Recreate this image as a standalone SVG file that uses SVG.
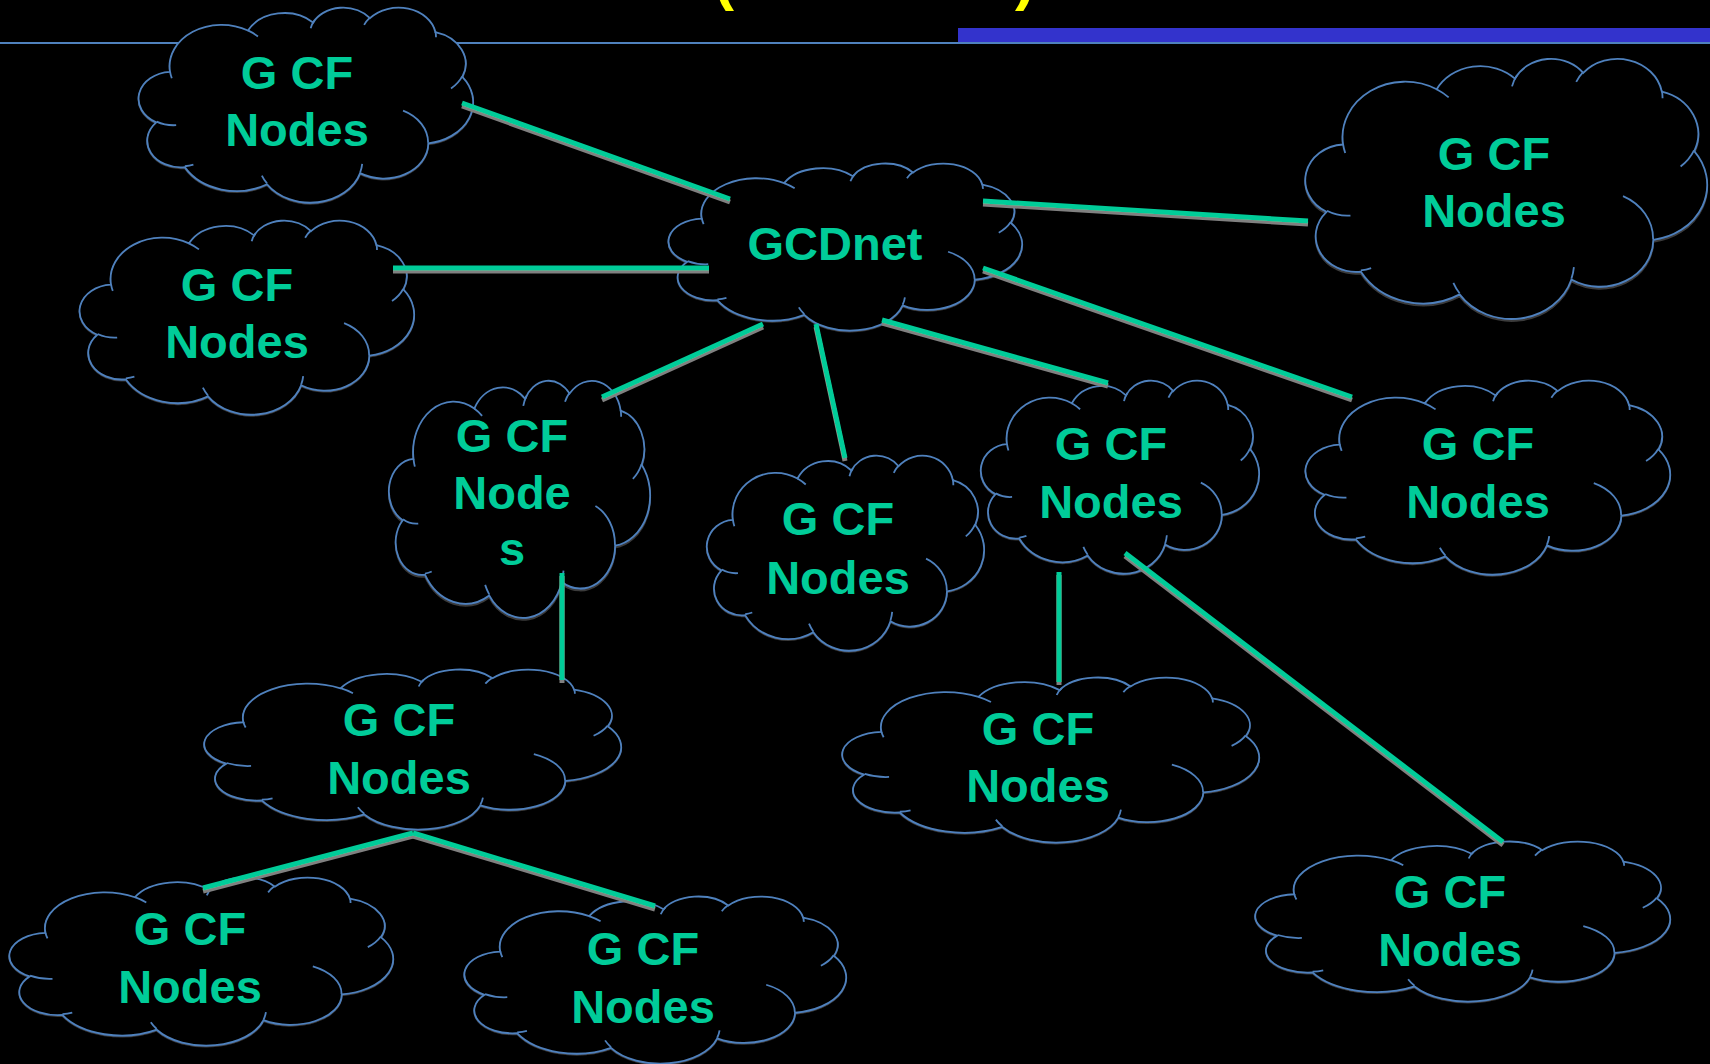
<svg xmlns="http://www.w3.org/2000/svg" xmlns:xlink="http://www.w3.org/1999/xlink" width="1710" height="1064" viewBox="0 0 1710 1064">
  <style>
    .lbl { font-family: "Liberation Sans", Arial, sans-serif; font-weight: bold; font-size: 47px; fill: #00CC99; text-anchor: middle; }
    .title { font-family: "Liberation Sans", Arial, sans-serif; font-weight: bold; font-size: 60px; fill: #FFFF00; }
    .cloud { fill: #000000; stroke: #4F81BD; stroke-width: 1.8; filter: url(#cloudShadow); }
    .wrinkle { fill: none; stroke: #4F81BD; stroke-width: 1.8; }
    .edge { stroke: #00CC99; stroke-width: 5; stroke-linecap: butt; fill: none; }
  </style>
  <defs>
    <!-- cloud outline in a 432 x 432 box -->
    <path id="cloud-outline" vector-effect="non-scaling-stroke" d="M39,143.7 A67.53,91.9 0 0 1 140.06,52.03 A53.33,72.67 0 0 1 224.58,34.32 A43.65,59.45 0 0 1 298.36,24.79 A48.57,65.95 0 0 1 383.2,55.76 A53.33,72.73 0 0 1 418.2,154.6 A67.75,92.2 0 0 1 374.05,302.01 A57.85,78.67 0 0 1 285.57,368.11 A67.52,92.15 0 0 1 164.83,392.66 A77.2,105.43 0 0 1 58.08,354.75 A43.6,59.18 0 0 1 21.17,255.53 A43.45,59.45 0 0 1 39,143.7 Z"/>
    <!-- inner fold arcs of the cloud -->
    <path id="cloud-folds" fill="none" vector-effect="non-scaling-stroke" d="M46.93,261.77 A43.45,59.45 0 0 1 21.59,253.8 M69.28,348.99 A43.6,59.18 0 0 1 58.2,352.8 M164.78,390.9 A67.52,92.15 0 0 1 158.09,373.46 M288.27,347.51 A67.52,92.15 0 0 1 285.6,366.6 M341.29,229.54 A57.85,78.67 0 0 1 373.81,300.9 M417.98,153.54 A53.33,72.73 0 0 1 403.49,180.31 M383.24,54.26 A48.57,65.95 0 0 1 384,66.9 M290.78,39.52 A48.57,65.95 0 0 1 298.21,23.39 M221.41,47.2 A43.65,59.45 0 0 1 226.68,29.14 M140,51.92 A67.53,91.9 0 0 1 153,65.41 M41.27,157.89 A67.53,91.9 0 0 1 39,143.71"/>
    <filter id="cloudShadow" x="-5%" y="-5%" width="110%" height="115%">
      <feFlood flood-color="#3a3a3a"/>
      <feComposite in2="SourceAlpha" operator="in"/>
      <feOffset dx="0" dy="3"/>
      <feMerge><feMergeNode/><feMergeNode in="SourceGraphic"/></feMerge>
    </filter>
    <filter id="edgeShadow" x="-5%" y="-5%" width="110%" height="110%">
      <feFlood flood-color="#808080"/>
      <feComposite in2="SourceAlpha" operator="in"/>
      <feOffset dx="0" dy="3"/>
      <feMerge><feMergeNode/><feMergeNode in="SourceGraphic"/></feMerge>
    </filter>
  </defs>

  <rect x="0" y="0" width="1710" height="1064" fill="#000000"/>

  <!-- title remnants and header rule -->
  <g id="header">
    <text class="title" x="714" y="-1">(</text>
    <text class="title" x="1015" y="-1">)</text>
    <rect x="0" y="42" width="1710" height="2" fill="#4F81BD"/>
    <rect x="958" y="28" width="752" height="14" fill="#3333CC"/>
  </g>

  <g id="node-a">
    <use href="#cloud-outline" class="cloud" transform="matrix(0.7708 0 0 0.4514 140 7)"/>
    <use href="#cloud-folds" class="wrinkle" transform="matrix(0.7708 0 0 0.4514 140 7)"/>
    <text class="lbl" x="297" y="89">G CF</text>
    <text class="lbl" x="297" y="146">Nodes</text>
  </g>

  <g id="node-gcdnet">
    <use href="#cloud-outline" class="cloud" transform="matrix(0.8148 0 0 0.3866 670 163)"/>
    <use href="#cloud-folds" class="wrinkle" transform="matrix(0.8148 0 0 0.3866 670 163)"/>
    <text class="lbl" x="835" y="260">GCDnet</text>
  </g>

  <g id="node-c">
    <use href="#cloud-outline" class="cloud" transform="matrix(0.9259 0 0 0.6019 1307 58)"/>
    <use href="#cloud-folds" class="wrinkle" transform="matrix(0.9259 0 0 0.6019 1307 58)"/>
    <text class="lbl" x="1494" y="170">G CF</text>
    <text class="lbl" x="1494" y="227">Nodes</text>
  </g>

  <g id="node-d">
    <use href="#cloud-outline" class="cloud" transform="matrix(0.7708 0 0 0.4491 81 220)"/>
    <use href="#cloud-folds" class="wrinkle" transform="matrix(0.7708 0 0 0.4491 81 220)"/>
    <text class="lbl" x="237" y="301">G CF</text>
    <text class="lbl" x="237" y="358">Nodes</text>
  </g>

  <g id="node-e">
    <use href="#cloud-outline" class="cloud" transform="matrix(0.6019 0 0 0.5486 390 380)"/>
    <use href="#cloud-folds" class="wrinkle" transform="matrix(0.6019 0 0 0.5486 390 380)"/>
    <text class="lbl" x="512" y="452">G CF</text>
    <text class="lbl" x="512" y="509">Node</text>
    <text class="lbl" x="512" y="565">s</text>
  </g>

  <g id="node-f">
    <use href="#cloud-outline" class="cloud" transform="matrix(0.6389 0 0 0.4514 708 455)"/>
    <use href="#cloud-folds" class="wrinkle" transform="matrix(0.6389 0 0 0.4514 708 455)"/>
    <text class="lbl" x="838" y="535">G CF</text>
    <text class="lbl" x="838" y="594">Nodes</text>
  </g>

  <g id="node-g">
    <use href="#cloud-outline" class="cloud" transform="matrix(0.6412 0 0 0.4468 982 380)"/>
    <use href="#cloud-folds" class="wrinkle" transform="matrix(0.6412 0 0 0.4468 982 380)"/>
    <text class="lbl" x="1111" y="460">G CF</text>
    <text class="lbl" x="1111" y="518">Nodes</text>
  </g>

  <g id="node-h">
    <use href="#cloud-outline" class="cloud" transform="matrix(0.8403 0 0 0.4491 1307 380)"/>
    <use href="#cloud-folds" class="wrinkle" transform="matrix(0.8403 0 0 0.4491 1307 380)"/>
    <text class="lbl" x="1478" y="460">G CF</text>
    <text class="lbl" x="1478" y="518">Nodes</text>
  </g>

  <g id="node-i">
    <use href="#cloud-outline" class="cloud" transform="matrix(0.9606 0 0 0.3704 206 669)"/>
    <use href="#cloud-folds" class="wrinkle" transform="matrix(0.9606 0 0 0.3704 206 669)"/>
    <text class="lbl" x="399" y="736">G CF</text>
    <text class="lbl" x="399" y="794">Nodes</text>
  </g>

  <g id="node-j">
    <use href="#cloud-outline" class="cloud" transform="matrix(0.9606 0 0 0.3819 844 677)"/>
    <use href="#cloud-folds" class="wrinkle" transform="matrix(0.9606 0 0 0.3819 844 677)"/>
    <text class="lbl" x="1038" y="745">G CF</text>
    <text class="lbl" x="1038" y="802">Nodes</text>
  </g>

  <g id="node-k">
    <use href="#cloud-outline" class="cloud" transform="matrix(0.8843 0 0 0.3889 11 877)"/>
    <use href="#cloud-folds" class="wrinkle" transform="matrix(0.8843 0 0 0.3889 11 877)"/>
    <text class="lbl" x="190" y="945">G CF</text>
    <text class="lbl" x="190" y="1003">Nodes</text>
  </g>

  <g id="node-l">
    <use href="#cloud-outline" class="cloud" transform="matrix(0.8796 0 0 0.3866 466 896)"/>
    <use href="#cloud-folds" class="wrinkle" transform="matrix(0.8796 0 0 0.3866 466 896)"/>
    <text class="lbl" x="643" y="965">G CF</text>
    <text class="lbl" x="643" y="1023">Nodes</text>
  </g>

  <g id="node-m">
    <use href="#cloud-outline" class="cloud" transform="matrix(0.956 0 0 0.3704 1257 841)"/>
    <use href="#cloud-folds" class="wrinkle" transform="matrix(0.956 0 0 0.3704 1257 841)"/>
    <text class="lbl" x="1450" y="908">G CF</text>
    <text class="lbl" x="1450" y="966">Nodes</text>
  </g>

  <!-- links between the clouds -->
  <g id="connectors" filter="url(#edgeShadow)">
    <line class="edge" x1="462" y1="103" x2="730" y2="199"/>
    <line class="edge" x1="393" y1="268" x2="709" y2="268"/>
    <line class="edge" x1="983" y1="201" x2="1308" y2="221"/>
    <line class="edge" x1="983" y1="268" x2="1352" y2="397"/>
    <line class="edge" x1="763" y1="324" x2="602" y2="397"/>
    <line class="edge" x1="816" y1="324" x2="845" y2="458"/>
    <line class="edge" x1="882" y1="320" x2="1108" y2="383"/>
    <line class="edge" x1="562" y1="573" x2="562" y2="680"/>
    <line class="edge" x1="1059" y1="572" x2="1059" y2="682"/>
    <line class="edge" x1="1125" y1="553" x2="1503" y2="842"/>
    <line class="edge" x1="413" y1="833" x2="203" y2="888"/>
    <line class="edge" x1="413" y1="833" x2="655" y2="906"/>
  </g>
</svg>
